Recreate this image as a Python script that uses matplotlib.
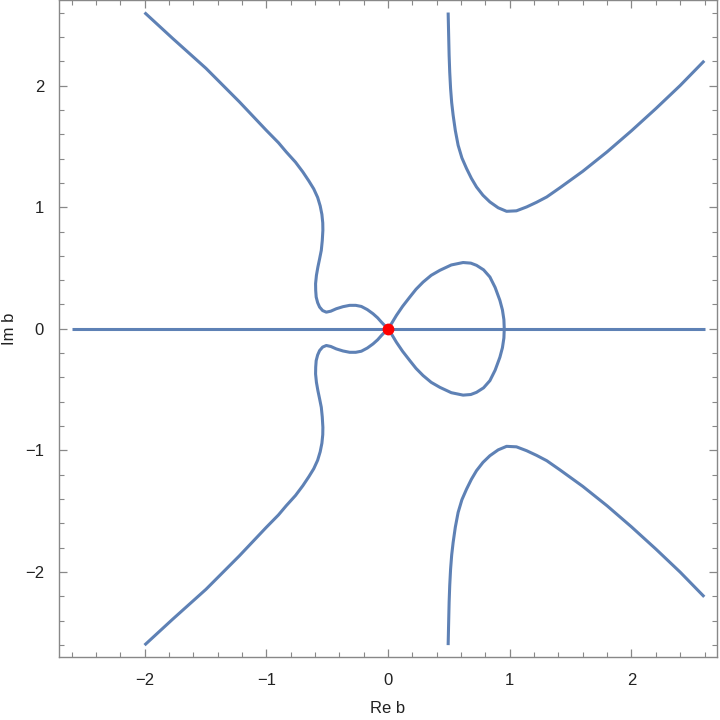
import matplotlib
matplotlib.use('Agg')
import matplotlib.pyplot as plt
from matplotlib.ticker import MultipleLocator

plt.rcParams['font.family'] = ['Liberation Sans', 'DejaVu Sans']

# real axis segment
axis_x = [-2.6, 2.6]
axis_y = [0.0, 0.0]

# upper-left branch: from (-2, 2.6) down through the wiggle into the origin
ul_x = [-2.0, -1.770, -1.495, -1.221, -1.001, -0.900, -0.836, -0.760, -0.700,
        -0.650, -0.610, -0.578, -0.557, -0.543, -0.536, -0.535, -0.540, -0.548,
        -0.562, -0.576, -0.588, -0.595, -0.594, -0.590, -0.578, -0.562, -0.537,
        -0.507, -0.470, -0.425, -0.370, -0.315, -0.265, -0.219, -0.170, -0.123,
        -0.085, -0.054, -0.025, 0.0]
ul_y = [2.6, 2.388, 2.141, 1.866, 1.633, 1.530, 1.454, 1.370, 1.290,
        1.215, 1.150, 1.080, 1.010, 0.940, 0.870, 0.810, 0.725, 0.645,
        0.575, 0.508, 0.440, 0.371, 0.315, 0.261, 0.215, 0.179, 0.150,
        0.137, 0.145, 0.165, 0.182, 0.193, 0.193, 0.184, 0.158, 0.124,
        0.090, 0.055, 0.025, 0.0]

# upper half of the right loop: origin -> top -> (0.955, 0)
loop_x = [0.0, 0.030, 0.069, 0.120, 0.179, 0.230, 0.288, 0.355, 0.426, 0.520,
          0.617, 0.680, 0.727, 0.785, 0.837, 0.880, 0.919, 0.940, 0.952, 0.955]
loop_y = [0.0, 0.045, 0.110, 0.185, 0.261, 0.325, 0.384, 0.440, 0.481, 0.525,
          0.545, 0.540, 0.522, 0.485, 0.426, 0.340, 0.234, 0.155, 0.075, 0.0]

# upper-right branch
ur_x = [0.494, 0.498, 0.502, 0.507, 0.514, 0.523, 0.535, 0.553, 0.576, 0.607,
        0.645, 0.685, 0.727, 0.780, 0.837, 0.905, 0.974, 1.055, 1.139, 1.220,
        1.304, 1.413, 1.600, 1.800, 2.000, 2.200, 2.400, 2.598]
ur_y = [2.6, 2.420, 2.250, 2.110, 1.976, 1.860, 1.756, 1.630, 1.509, 1.405,
        1.318, 1.237, 1.166, 1.098, 1.043, 0.995, 0.966, 0.970, 1.002, 1.040,
        1.084, 1.160, 1.295, 1.455, 1.628, 1.810, 2.000, 2.203]

blue = '#5E81B5'
fig = plt.figure(figsize=(7.2, 7.2), dpi=100)
ax = fig.add_axes([0.0824, 0.0871, 0.913, 0.9124])

line_kw = dict(color=blue, lw=2.2, solid_capstyle='butt', solid_joinstyle='round')
ax.plot(axis_x, axis_y, **line_kw)
for sgn in (1, -1):
    ax.plot(ul_x, [sgn * v for v in ul_y], **line_kw)
    ax.plot(loop_x, [sgn * v for v in loop_y], **line_kw)
    ax.plot(ur_x, [sgn * v for v in ur_y], **line_kw)

ax.plot([0], [0], 'o', color='#ff0000', ms=7.5, zorder=5)

ax.set_xlim(-2.7, 2.7)
ax.set_ylim(-2.7, 2.7)

for sp in ax.spines.values():
    sp.set_color('#888888')
    sp.set_linewidth(1.0)

ax.xaxis.set_major_locator(MultipleLocator(1))
ax.yaxis.set_major_locator(MultipleLocator(1))
ax.xaxis.set_minor_locator(MultipleLocator(0.2))
ax.yaxis.set_minor_locator(MultipleLocator(0.2))
ax.tick_params(which='both', direction='in', top=True, right=True,
               color='#888888', labelsize=12, labelcolor='#222222')
ax.tick_params(which='major', length=5.8, width=0.9, pad=11)
ax.tick_params(which='minor', length=3.4, width=0.8)

ax.set_xticks([-2, -1, 0, 1, 2])
ax.set_xticklabels(['\u22122', '\u22121', '0', '1', '2'])
ax.set_yticks([-2, -1, 0, 1, 2])
ax.set_yticklabels(['\u22122', '\u22121', '0', '1', '2'])

ax.set_xlabel('Re b', fontsize=12, color='#222222', labelpad=10)
ax.set_ylabel('Im b', fontsize=12, color='#222222', labelpad=6)

fig.savefig('out.png', dpi=100)
